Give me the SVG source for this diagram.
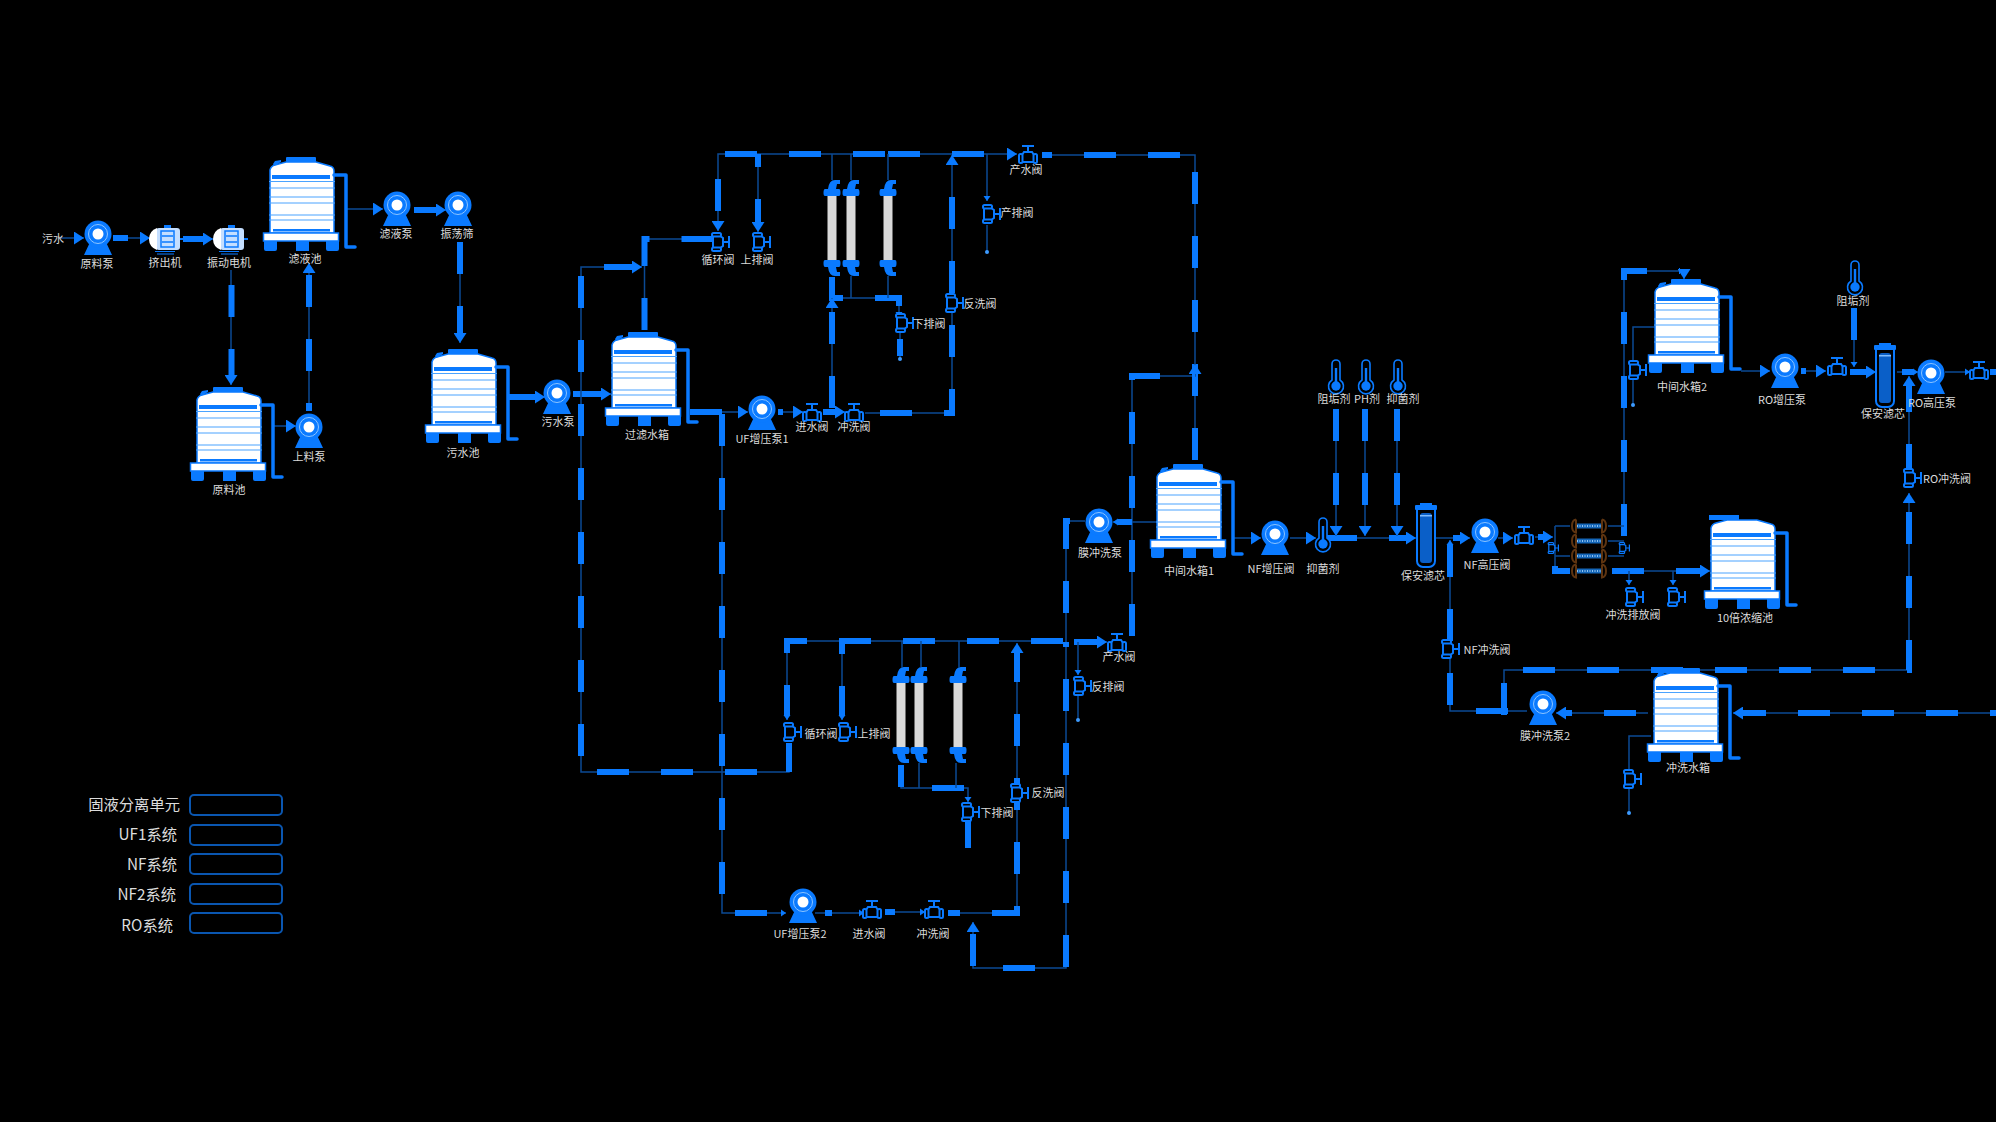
<svg xmlns="http://www.w3.org/2000/svg" xmlns:xlink="http://www.w3.org/1999/xlink" width="1996" height="1122" viewBox="0 0 1996 1122">
<style>
text{font-family:"Noto Sans CJK SC","Liberation Sans",sans-serif;font-size:11px;fill:#dcdcdc;text-anchor:middle;dominant-baseline:central}
.lg{font-size:15.300px;text-anchor:end}
.l{fill:none;stroke:#0b4a94;stroke-width:1.5}
.d{fill:none;stroke:#0a7aff;stroke-width:6;stroke-dasharray:32 32}
.box{fill:none;stroke:#0a56b0;stroke-width:2}
.dot{fill:#3d9bff}
.b{fill:#0a7aff}
.vs{fill:#000;stroke:#0a7aff;stroke-width:2}
.band{stroke:#4aa3ff;stroke-width:1}
</style>
<defs>
<marker id="a" markerUnits="userSpaceOnUse" markerWidth="11" markerHeight="13" refX="10" refY="6.5" orient="auto"><path d="M0 0L10 6.5L0 13z" fill="#0a7aff"/></marker>
<marker id="s" markerUnits="userSpaceOnUse" markerWidth="6" markerHeight="8" refX="5" refY="4" orient="auto"><path d="M0 0.5L5 4L0 7.5z" fill="#0a7aff"/></marker>
<g id="tb">
<path d="M7 13Q8 9 12 8L23 5H53L67 9Q71 10 71 14V76H7Z" fill="#fff" stroke="#0a7aff" stroke-width="1.5"/>
<rect class="b" x="9" y="18" width="58" height="4"/>
<path class="band" d="M6 24.500H72M6 31H72M6 40H72M6 46H72M6 58H72M6 63H72"/>
<rect class="b" x="10" y="72" width="57" height="2.500"/>
<rect x="0.500" y="76" width="75" height="8" fill="#fff" stroke="#0a7aff" stroke-width="1.500"/>
<path class="b" d="M1 84H14V92Q14 94 12 94H3Q1 94 1 92ZM33 84H46V94H33ZM63 84H76V92Q76 94 74 94H65Q63 94 63 92Z"/>
<path d="M71 18H83V90H92" fill="none" stroke="#0a7aff" stroke-width="3.500" stroke-linecap="round" stroke-linejoin="round"/>
</g>
<g id="tank"><use href="#tb"/><rect class="b" x="23" y="0" width="30" height="5" rx="1"/><path class="b" d="M10 7L12 4L18 3V5L11 9Z"/></g>
<g id="pump">
<path class="b" d="M-7 6L-14 21H14L7 6Z"/>
<circle class="b" r="13.500"/>
<circle r="9.500" fill="none" stroke="#8cc4ff" stroke-width="1"/>
<circle r="5.500" fill="#fff"/>
</g>
<g id="valve">
<path d="M-6 -9H6M0 -9V-3" fill="none" stroke="#0a7aff" stroke-width="2"/>
<path class="vs" d="M-4 -3H4L6 0V7H-6V0Z"/>
<rect class="vs" x="-9" y="-1" width="3.500" height="9" rx="1.500"/>
<rect class="vs" x="5.500" y="-1" width="3.500" height="9" rx="1.500"/>
</g>
<use id="valvev" href="#valve" transform="rotate(90)"/>
<g id="thermo">
<path d="M-4 3V-13a4 4 0 0 1 8 0V3a7.500 7.500 0 1 1-8 0Z" fill="#000" stroke="#0a7aff" stroke-width="1.600"/>
<rect class="b" x="-1.200" y="-9" width="2.400" height="16"/>
<circle class="b" cy="9" r="4.700"/>
</g>
<g id="filter">
<rect class="b" x="-6" y="0" width="12" height="3"/>
<rect class="b" x="-11" y="2" width="22" height="5" rx="1"/>
<path d="M-9 7V58a6 6 0 0 0 6 6H3a6 6 0 0 0 6-6V7" fill="#000" stroke="#0a7aff" stroke-width="2"/>
<rect x="-6" y="10" width="12" height="50" rx="3" fill="#0a5fc8"/>
<rect x="-6" y="12" width="12" height="1.500" fill="#7fbcff"/>
</g>
<g id="motor">
<rect x="-9" y="-11" width="24" height="22" rx="3" fill="#c4deff"/>
<path d="M-8 -11Q-16 -8 -16 0Q-16 8 -8 11Z" fill="#fff"/>
<rect x="-4" y="-8" width="13" height="16" fill="none" stroke="#0a7aff" stroke-width="1.500"/>
<path d="M-3 -3H8M-3 3H8" stroke="#0a7aff" stroke-width="1.500"/>
<rect class="b" x="-1" y="-14" width="7" height="3"/>
<path class="b" d="M-10 12H10V13H-10ZM-8 14.500H9V15.500H-8ZM15 -1H19V1H15Z"/>
</g>
<path id="hook" class="b" d="M-4 9Q-3 0 3 0H8V4H5L4 9H7Q8.500 9 8.500 13Q8.500 16 7 16H-7Q-8.500 16 -8.500 13Q-8.500 9 -7 9Z"/>
<g id="uf">
<rect x="-4.500" y="15" width="9" height="66" fill="#d9d9d9"/>
<use href="#hook"/>
<use href="#hook" transform="translate(0 96) scale(1 -1)"/>
</g>
<g id="ro">
<rect x="-13" y="-2.500" width="26" height="5" fill="#1466b8"/>
<path d="M-12 0H12" stroke="#8cc0ee" stroke-width="2" stroke-dasharray="1 1.500"/>
<path d="M-13 -6.500Q-17 -6 -17 0Q-17 6 -13 6.500V-6.500M13 -6.500Q17 -6 17 0Q17 6 13 6.500V-6.500" fill="none" stroke="#5e3410" stroke-width="2"/>
</g>
</defs>
<rect width="1996" height="1122" fill="#000"/>
<g id="connectors">
<path class="l" d="M60 238H84" marker-end="url(#a)"/>
<path class="l" d="M113 238H150" marker-end="url(#a)"/><path class="d" d="M113 238H141" stroke-dashoffset="17"/>
<path class="l" d="M183 239H213" marker-end="url(#a)"/><path class="d" d="M183 239H204"/>
<path class="l" d="M231 270V385" marker-end="url(#a)"/><path class="d" d="M231.500 270V376" stroke-dashoffset="-15"/>
<path class="l" d="M309 411V263" marker-end="url(#a)"/><path class="d" d="M309 411V272" stroke-dashoffset="-40"/>
<path class="l" d="M273 426H296" marker-end="url(#a)"/>
<path class="l" d="M346 209H383" marker-end="url(#a)"/>
<path class="l" d="M414 210H446" marker-end="url(#a)"/><path class="d" d="M414 210H437"/>
<path class="l" d="M460 242V343" marker-end="url(#a)"/><path class="d" d="M460 242V334"/>
<path class="l" d="M509 397H545" marker-end="url(#a)"/><path class="d" d="M509 397H536"/>
<path class="l" d="M573 394H611" marker-end="url(#a)"/><path class="d" d="M573 394H602"/>
<path class="l" d="M789 743V772H581V267H642" marker-end="url(#a)"/><path class="d" d="M789 743V772H581V267H633" stroke-dashoffset="3"/>
<path class="l" d="M644.500 330V239H712"/><path class="d" d="M644.500 330V239H712"/>
<path class="l" d="M690 412H748" marker-end="url(#a)"/><path class="d" d="M690 412H739"/>
<path class="l" d="M722 414V913H786" marker-end="url(#s)"/><path class="d" d="M722 414V913H781"/>
<path class="l" d="M778 412H803" marker-end="url(#a)"/><path class="d" d="M778 412H794" stroke-dashoffset="27"/>
<path class="l" d="M823 412H845" marker-end="url(#a)"/><path class="d" d="M823 412H836"/>
<path class="l" d="M865 413H952V155" marker-end="url(#a)"/><path class="d" d="M865 413H952V165" stroke-dashoffset="-15"/>
<path class="l" d="M885 154H718V231" marker-end="url(#a)"/><path class="d" d="M885 154H718V222"/>
<path class="l" d="M888 154H1017" marker-end="url(#a)"/><path class="d" d="M888 154H1008"/>
<path class="l" d="M758 154V232" marker-end="url(#a)"/><path class="d" d="M758 154V223" stroke-dashoffset="19"/>
<path class="l" d="M987 154V201" marker-end="url(#s)"/>
<path class="l" d="M987 225V252"/><circle class="dot" cx="987" cy="252" r="2"/>
<path class="l" d="M832 154V180M851 154V180M888 154V180"/>
<path class="l" d="M832 277V298H899V317" marker-end="url(#s)"/><path class="d" d="M832 277V298H899V312"/>
<path class="l" d="M851 276V298M888 276V298"/>
<path class="l" d="M900 333V359"/><path class="d" d="M900 339V356"/><circle class="dot" cx="900" cy="359" r="2"/>
<path class="l" d="M832 408V298" marker-end="url(#a)"/><path class="d" d="M832 408V307"/>
<path class="l" d="M1195 460V155H1042"/><path class="d" d="M1195 460V155H1042"/>
<path class="l" d="M1132 636V376H1195V364" marker-end="url(#a)"/><path class="d" d="M1132 636V376H1195"/>
<path class="l" d="M1157 522H1113" marker-end="url(#s)"/><path class="d" d="M1157 522H1118" stroke-dashoffset="-25"/>
<path class="l" d="M1085 521H1066V642"/><path class="d" d="M1085 521H1066V642" stroke-dashoffset="-15"/>
<path class="l" d="M1066 642V968H973V922" marker-end="url(#a)"/><path class="d" d="M1066 642V968H973V931" stroke-dashoffset="-37"/>
<path class="l" d="M815 913H864" marker-end="url(#s)"/><path class="d" d="M825 913H860" stroke-dashoffset="25"/>
<path class="l" d="M885 912H925" marker-end="url(#s)"/><path class="d" d="M885 912H921" stroke-dashoffset="22"/>
<path class="l" d="M948 913H1017V643" marker-end="url(#a)"/><path class="d" d="M948 913H1017V652" stroke-dashoffset="20"/>
<path class="l" d="M1063 641H787V720" marker-end="url(#s)"/><path class="d" d="M1063 641H787V716"/>
<path class="l" d="M1074 642H1107" marker-end="url(#a)"/><path class="d" d="M1074 642H1098"/>
<path class="l" d="M842 641V720" marker-end="url(#s)"/><path class="d" d="M842 641V716" stroke-dashoffset="19"/>
<path class="l" d="M902 641V667M921 641V667M959 641V667"/>
<path class="l" d="M901 765V788H968V802" marker-end="url(#s)"/><path class="d" d="M901 765V788H968V797" stroke-dashoffset="10"/>
<path class="l" d="M919 763V788M956 763V788"/>
<path class="l" d="M968 820V848"/><path class="d" d="M968 820V848"/>
<path class="l" d="M1078 642V675" marker-end="url(#s)"/>
<path class="l" d="M1078 695V720"/><circle class="dot" cx="1078" cy="720" r="2"/>
<path class="l" d="M1232 538H1261" marker-end="url(#a)"/>
<path class="l" d="M1290 538H1316" marker-end="url(#a)"/>
<path class="l" d="M1327 538H1416" marker-end="url(#a)"/><path class="d" d="M1327 538H1407" stroke-dashoffset="2"/>
<path class="l" d="M1336 409V536" marker-end="url(#a)"/><path class="d" d="M1336 409V527"/>
<path class="l" d="M1365 409V536" marker-end="url(#a)"/><path class="d" d="M1365 409V527"/>
<path class="l" d="M1397 409V536" marker-end="url(#a)"/><path class="d" d="M1397 409V527"/>
<path class="l" d="M1436 538H1470" marker-end="url(#a)"/><path class="d" d="M1453 538H1461"/>
<path class="l" d="M1498 538H1513" marker-end="url(#a)"/>
<path class="l" d="M1535 537H1553" marker-end="url(#a)"/><path class="d" d="M1538 537H1544"/>
<path class="l" d="M1527 711H1450V540" marker-end="url(#s)"/><path class="d" d="M1527 711H1450V545" stroke-dashoffset="-19"/>
<path class="l" d="M1504 715V670H1909V493" marker-end="url(#a)"/><path class="d" d="M1504 715V670H1909V502"/>
<path class="l" d="M1909 470V376" marker-end="url(#a)"/><path class="d" d="M1909 470V385" stroke-dashoffset="6"/>
<path class="l" d="M1996 713H1733" marker-end="url(#a)"/><path class="d" d="M1996 713H1742" stroke-dashoffset="26"/>
<path class="l" d="M1648 713H1556" marker-end="url(#a)"/><path class="d" d="M1648 713H1565" stroke-dashoffset="-12"/>
<path class="l" d="M1651 736H1629V813"/><circle class="dot" cx="1629" cy="813" r="2"/>
<path class="l" d="M1624 536V271H1684V279" marker-end="url(#a)"/><path class="d" d="M1624 536V271H1680"/>
<path class="l" d="M1612 571H1710" marker-end="url(#a)"/><path class="d" d="M1612 571H1701"/>
<path class="l" d="M1629 571V585" marker-end="url(#s)"/>
<path class="l" d="M1673 571V585" marker-end="url(#s)"/>
<path class="l" d="M1555 526V571H1570"/><path class="d" d="M1555 566V571H1570"/>
<path class="l" d="M1555 526H1570M1555 556H1570M1608 526H1624M1608 541H1624M1608 556H1624"/>
<path class="l" d="M1741 371H1770" marker-end="url(#a)"/>
<path class="l" d="M1801 371H1826" marker-end="url(#a)"/><path class="d" d="M1801 371H1806"/>
<path class="l" d="M1850 372H1876" marker-end="url(#a)"/><path class="d" d="M1850 372H1867"/>
<path class="l" d="M1854 308V367" marker-end="url(#s)"/><path class="d" d="M1854 308V340"/>
<path class="l" d="M1897 372H1918" marker-end="url(#s)"/><path class="d" d="M1902 372H1913"/>
<path class="l" d="M1945 372H1970" marker-end="url(#s)"/>
<path class="d" d="M1990 372H1996"/>
<path class="l" d="M1655 327H1633V405"/><circle class="dot" cx="1633" cy="405" r="2"/>
</g>
<g id="n-wushui"><text x="53" y="238">污水</text></g>
<g id="n-yuanliaobeng"><use href="#pump" x="98" y="234"/><text x="97" y="263">原料泵</text></g>
<g id="n-jichuji"><use href="#motor" x="165" y="239"/><text x="165" y="262">挤出机</text></g>
<g id="n-zhendong"><use href="#motor" x="229" y="239"/><text x="229" y="262">振动电机</text></g>
<g id="n-lvyechi"><use href="#tank" x="263" y="157"/><text x="305" y="258">滤液池</text></g>
<g id="n-lvyebeng"><use href="#pump" x="397" y="205"/><text x="396" y="233">滤液泵</text></g>
<g id="n-zhendangshai"><use href="#pump" x="458" y="205"/><text x="457" y="233">振荡筛</text></g>
<g id="n-shangliao"><use href="#pump" x="309" y="427"/><text x="309" y="456">上料泵</text></g>
<g id="n-yuanliaochi"><use href="#tank" x="190" y="387"/><text x="229" y="489">原料池</text></g>
<g id="n-wushuichi"><use href="#tank" x="425" y="349"/><text x="463" y="452">污水池</text></g>
<g id="n-wushuibeng"><use href="#pump" x="557" y="393"/><text x="558" y="421">污水泵</text></g>
<g id="n-guolv"><use href="#tank" x="605" y="332"/><text x="647" y="434">过滤水箱</text></g>
<g id="n-ufp1"><use href="#pump" x="762" y="409"/><text x="762" y="438">UF增压泵1</text></g>
<g id="n-v1"><use href="#valve" x="812" y="413"/><text x="812" y="426">进水阀</text></g>
<g id="n-v2"><use href="#valve" x="854" y="413"/><text x="854" y="426">冲洗阀</text></g>
<g id="n-v3"><use href="#valve" x="1028" y="155"/><text x="1026" y="169">产水阀</text></g>
<g id="n-v4"><use href="#valvev" x="720" y="242"/><text x="718" y="259">循环阀</text></g>
<g id="n-v5"><use href="#valvev" x="761" y="242"/><text x="757" y="259">上排阀</text></g>
<g id="n-v6"><use href="#valvev" x="991" y="214"/><text x="1017" y="212">产排阀</text></g>
<g id="n-v7"><use href="#valvev" x="904" y="323"/><text x="929" y="323">下排阀</text></g>
<g id="n-v8"><use href="#valvev" x="954" y="303"/><text x="980" y="303">反洗阀</text></g>
<g id="n-uf1"><use href="#uf" x="832" y="180"/></g>
<g id="n-uf2"><use href="#uf" x="851" y="180"/></g>
<g id="n-uf3"><use href="#uf" x="888" y="180"/></g>
<g id="n-uf4"><use href="#uf" x="901" y="667"/></g>
<g id="n-uf5"><use href="#uf" x="919" y="667"/></g>
<g id="n-uf6"><use href="#uf" x="958" y="667"/></g>
<g id="n-v9"><use href="#valvev" x="792" y="732"/><text x="821" y="733">循环阀</text></g>
<g id="n-v10"><use href="#valvev" x="847" y="732"/><text x="874" y="733">上排阀</text></g>
<g id="n-v11"><use href="#valvev" x="1019" y="793"/><text x="1048" y="792">反洗阀</text></g>
<g id="n-v12"><use href="#valvev" x="970" y="812"/><text x="997" y="812">下排阀</text></g>
<g id="n-v13"><use href="#valvev" x="1082" y="686"/><text x="1108" y="686">反排阀</text></g>
<g id="n-v14"><use href="#valve" x="1117" y="643"/><text x="1119" y="656">产水阀</text></g>
<g id="n-ufp2"><use href="#pump" x="803" y="902"/><text x="800" y="933">UF增压泵2</text></g>
<g id="n-v15"><use href="#valve" x="872" y="910"/><text x="869" y="933">进水阀</text></g>
<g id="n-v16"><use href="#valve" x="934" y="910"/><text x="933" y="933">冲洗阀</text></g>
<g id="n-mcx"><use href="#pump" x="1099" y="522"/><text x="1100" y="552">膜冲洗泵</text></g>
<g id="n-zj1"><use href="#tank" x="1150" y="464"/><text x="1189" y="570">中间水箱1</text></g>
<g id="n-nfp"><use href="#pump" x="1275" y="534"/><text x="1271" y="568">NF增压阀</text></g>
<g id="n-t1"><use href="#thermo" x="1323" y="535"/><text x="1323" y="568">抑菌剂</text></g>
<g id="n-t2"><use href="#thermo" x="1336" y="377"/><text x="1334" y="398">阻垢剂</text></g>
<g id="n-t3"><use href="#thermo" x="1366" y="377"/><text x="1367" y="398">PH剂</text></g>
<g id="n-t4"><use href="#thermo" x="1398" y="377"/><text x="1403" y="398">抑菌剂</text></g>
<g id="n-f1"><use href="#filter" x="1426" y="503"/><text x="1423" y="575">保安滤芯</text></g>
<g id="n-nfh"><use href="#pump" x="1485" y="532"/><text x="1487" y="564">NF高压阀</text></g>
<g id="n-v17"><use href="#valve" x="1524" y="536"/></g>
<g id="n-ro1"><use href="#ro" x="1589" y="526"/></g>
<g id="n-ro2"><use href="#ro" x="1589" y="541"/></g>
<g id="n-ro3"><use href="#ro" x="1589" y="556"/></g>
<g id="n-ro4"><use href="#ro" x="1589" y="571"/></g>
<g id="n-v18"><use href="#valvev" transform="translate(1553 548) scale(.6)"/></g>
<g id="n-v19"><use href="#valvev" transform="translate(1624 548) scale(.6)"/></g>
<g id="n-v20"><use href="#valvev" x="1634" y="597"/><text x="1633" y="614">冲洗排放阀</text></g>
<g id="n-v21"><use href="#valvev" x="1676" y="597"/></g>
<g id="n-nong"><use href="#tb" x="1704" y="515"/><rect class="b" x="1709" y="515" width="30" height="5"/><text x="1745" y="617">10倍浓缩池</text></g>
<g id="n-zj2"><use href="#tank" x="1648" y="279"/><text x="1682" y="386">中间水箱2</text></g>
<g id="n-v22"><use href="#valvev" x="1637" y="370"/></g>
<g id="n-rop"><use href="#pump" x="1785" y="367"/><text x="1782" y="399">RO增压泵</text></g>
<g id="n-v23"><use href="#valve" x="1837" y="367"/></g>
<g id="n-t5"><use href="#thermo" x="1855" y="278"/><text x="1853" y="300">阻垢剂</text></g>
<g id="n-f2"><use href="#filter" x="1885" y="343"/><text x="1883" y="413">保安滤芯</text></g>
<g id="n-roh"><use href="#pump" x="1931" y="373"/><text x="1932" y="402">RO高压泵</text></g>
<g id="n-v24"><use href="#valve" x="1979" y="371"/></g>
<g id="n-v25"><use href="#valvev" x="1912" y="478"/><text x="1947" y="478">RO冲洗阀</text></g>
<g id="n-v26"><use href="#valvev" x="1450" y="649"/><text x="1487" y="649">NF冲洗阀</text></g>
<g id="n-mcx2"><use href="#pump" x="1543" y="704"/><text x="1545" y="735">膜冲洗泵2</text></g>
<g id="n-cx"><use href="#tank" x="1647" y="668"/><text x="1688" y="767">冲洗水箱</text></g>
<g id="n-v27"><use href="#valvev" x="1632" y="779"/></g>
<g id="legend-1"><text class="lg" x="180" y="803">固液分离单元</text><rect class="box" x="190" y="795" width="92" height="20" rx="4"/></g>
<g id="legend-2"><text class="lg" x="177" y="833">UF1系统</text><rect class="box" x="190" y="825" width="92" height="20" rx="4"/></g>
<g id="legend-3"><text class="lg" x="177" y="863">NF系统</text><rect class="box" x="190" y="854" width="92" height="20" rx="4"/></g>
<g id="legend-4"><text class="lg" x="176" y="893">NF2系统</text><rect class="box" x="190" y="884" width="92" height="20" rx="4"/></g>
<g id="legend-5"><text class="lg" x="173" y="924">RO系统</text><rect class="box" x="190" y="913" width="92" height="20" rx="4"/></g>
</svg>
